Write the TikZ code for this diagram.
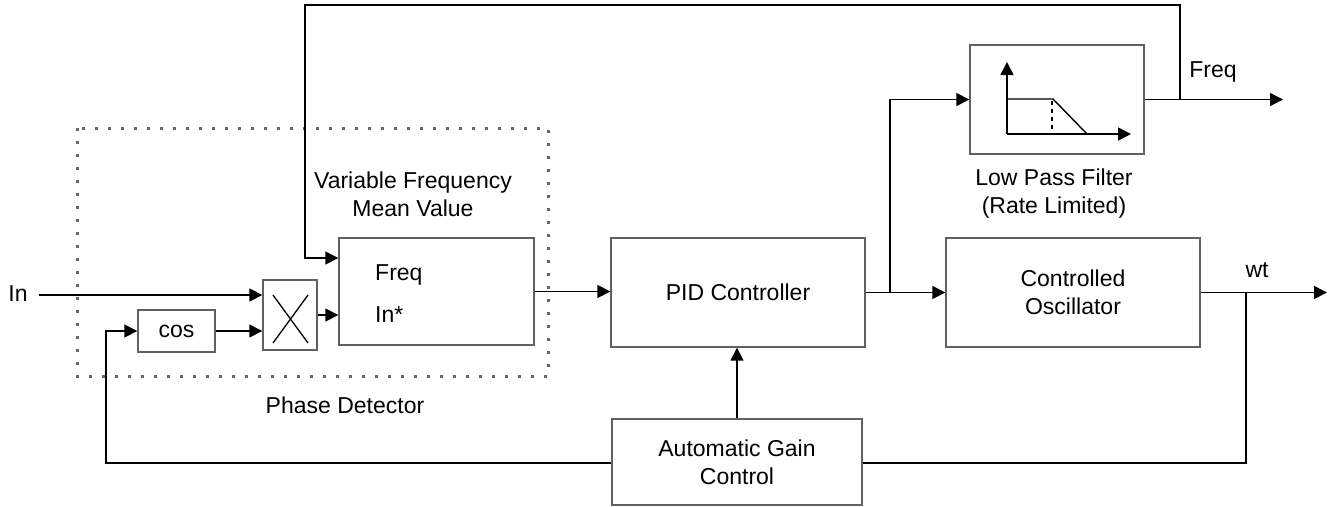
\documentclass[tikz,border=0pt]{standalone}
\usepackage{fontspec}
\setmainfont{Liberation Sans}
\usetikzlibrary{arrows.meta}
\begin{document}
\begin{tikzpicture}[x=1pt,y=-1pt,
  box/.style={draw=black!62, line width=1.4pt, rectangle, inner sep=0pt,
    font=\fontsize{23}{28}\selectfont, align=center},
  lbl/.style={inner sep=0pt, font=\fontsize{23}{28}\selectfont, align=center},
  wire/.style={line width=1.6pt, black},
  arr/.style={wire, -{Triangle[length=13pt,width=13pt]}},
  dotbox/.style={draw=black!60, line width=3pt, dash pattern=on 3pt off 10pt}]
\useasboundingbox (0,0) rectangle (1337,506);

% dotted phase detector frame
\draw[dotbox] (77,128) rectangle (548,376);

% blocks
\node[box, minimum width=195pt, minimum height=107pt] (vfmv) at (436.5,291.5) {};
\node[box, minimum width=254pt, minimum height=109pt] (pid) at (738,292.5) {PID Controller};
\node[box, minimum width=254pt, minimum height=109pt] (co) at (1073,292.5) {Controlled\\Oscillator};
\node[box, minimum width=174pt, minimum height=109pt] (lpf) at (1057,99.5) {};
\node[box, minimum width=250pt, minimum height=86pt] (agc) at (737,462) {Automatic Gain\\Control};
\node[box, minimum width=77pt, minimum height=42pt] (cos) at (176.5,331) {cos};
\node[box, minimum width=54pt, minimum height=70pt] (mult) at (290,315) {};

% labels
\node[lbl, anchor=west] (fin) at (375,275) {Freq};
\node[lbl, anchor=west] (inin) at (375,315) {In*};
\node[lbl] (vfmvlbl) at (413,194) {Variable Frequency\\Mean Value};
\node[lbl] (pdlbl) at (345,405) {Phase Detector};
\node[lbl] (lpflbl) at (1054,194) {Low Pass Filter\\(Rate Limited)};
\node[lbl] (freqlbl) at (1213,72) {Freq};
\node[lbl] (wtlbl) at (1257,270) {wt};
\node[lbl] (inlbl) at (18,294) {In};

% multiplier cross
\draw[line width=1.3pt] (273,295) -- (308,343) (308,295) -- (273,343);

% low pass filter glyph
\draw[arr] (1007,134) -- (1007,62);
\draw[arr] (1007,134) -- (1131,134);
\draw[line width=1.4pt] (1007,99) -- (1053,99) -- (1087,134);
\draw[line width=1.3pt, dash pattern=on 4pt off 4pt] (1052,101) -- (1052,134);

% coordinates
\coordinate (inS) at (39,295);
\coordinate (br1) at (890,292.5);
\coordinate (fb) at (1180,99.5);
\coordinate (t1) at (1180,5);
\coordinate (t2) at (305,5);
\coordinate (t3) at (305,258);
\coordinate (fout) at (1283,99.5);
\coordinate (wout) at (1327,292.5);
\coordinate (wb) at (1246,292.5);
\coordinate (wb2) at (1246,463);
\coordinate (lb) at (106,463);
\coordinate (lc) at (106,331);

% connectors
\draw[arr] (inS) -- (inS -| mult.west);
\draw[arr] (cos.east) -- (cos.east -| mult.west);
\draw[arr] (mult.east) -- (mult.east -| vfmv.west);
\draw[arr] (vfmv.east) -- (vfmv.east -| pid.west);
\draw[arr] (pid.east) -- (co.west);
\draw[arr] (br1) |- (lpf.west);
\draw[arr] (lpf.east) -- (fout);
\draw[arr] (fb) -- (t1) -- (t2) -- (t3) -- (t3 -| vfmv.west);
\draw[arr] (co.east) -- (wout);
\draw[wire] (wb) -- (wb2) -- (wb2 -| agc.east);
\draw[arr] (agc.west |- lb) -- (lb) -- (lc) -- (cos.west);
\draw[arr] (agc.north) -- (agc.north |- pid.south);
\end{tikzpicture}
\end{document}
